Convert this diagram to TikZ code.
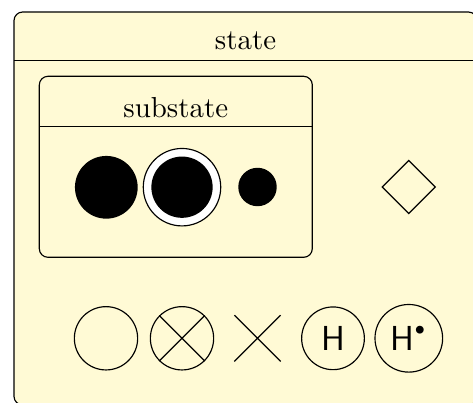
\documentclass[tikz,border=0pt]{standalone}
\usepackage{amsmath, amssymb}
\usepackage{tikz}
\usetikzlibrary{shapes.geometric, shapes.misc}

\definecolor{statefill}{RGB}{255,250,213}
\tikzset{
  statebox/.style={draw, fill=statefill, rounded corners=3pt},
  pseudo/.style={circle, draw, inner sep=0pt},
  blackdot/.style={circle, fill=black, inner sep=0pt},
}

\begin{document}
\begin{tikzpicture}[x=0.346pt, y=-0.346pt]
  \useasboundingbox (0,0) rectangle (473,403);
  \clip (0,0) rectangle (473,403);
  % outer state, runs past the right and bottom edges
  \draw[statebox] (14,12) rectangle (477,405);
  \draw (14,60.5) -- (477,60.5);
  \node[anchor=base] (statename) at (245.5,50) {state};
  % substate
  \draw[statebox] (39.3,76.3) rectangle (312.3,257.3);
  \draw (39.3,126.7) -- (312.3,126.7);
  \node[anchor=base] (substatename) at (175.8,117.3) {substate};
  % initial, final, junction
  \node[blackdot, minimum size=21.7pt] (initial) at (106.3,187.3) {};
  \node[pseudo, fill=white, minimum size=26.8pt] (final) at (182,187.2) {};
  \node[blackdot, minimum size=21.2pt] (finalcore) at (final) {};
  \node[blackdot, minimum size=13.3pt] (junction) at (257.5,187) {};
  % choice
  \node[diamond, draw, inner sep=0pt, minimum size=18.5pt] (choice) at (408.7,187) {};
  % bottom row: entry, exit, terminate, history, deep history
  \node[pseudo, minimum size=21.9pt] (entry) at (106,338.3) {};
  \node[pseudo, minimum size=21.9pt] (exit) at (182,338.3) {};
  \draw (exit.45) -- (exit.225) (exit.135) -- (exit.-45);
  \node[cross out, draw, inner sep=0pt, minimum size=15.6pt] (terminate) at (257.5,338.3) {};
  \node[pseudo, minimum size=21.7pt, font=\large\sffamily] (history) at (333,338.3) {H};
  \node[pseudo, minimum size=23.4pt, font=\large\sffamily] (deephistory) at (408.8,338.3)
    {H$^{\raisebox{1.2pt}{$\scriptscriptstyle\bullet$}}$};
\end{tikzpicture}
\end{document}
